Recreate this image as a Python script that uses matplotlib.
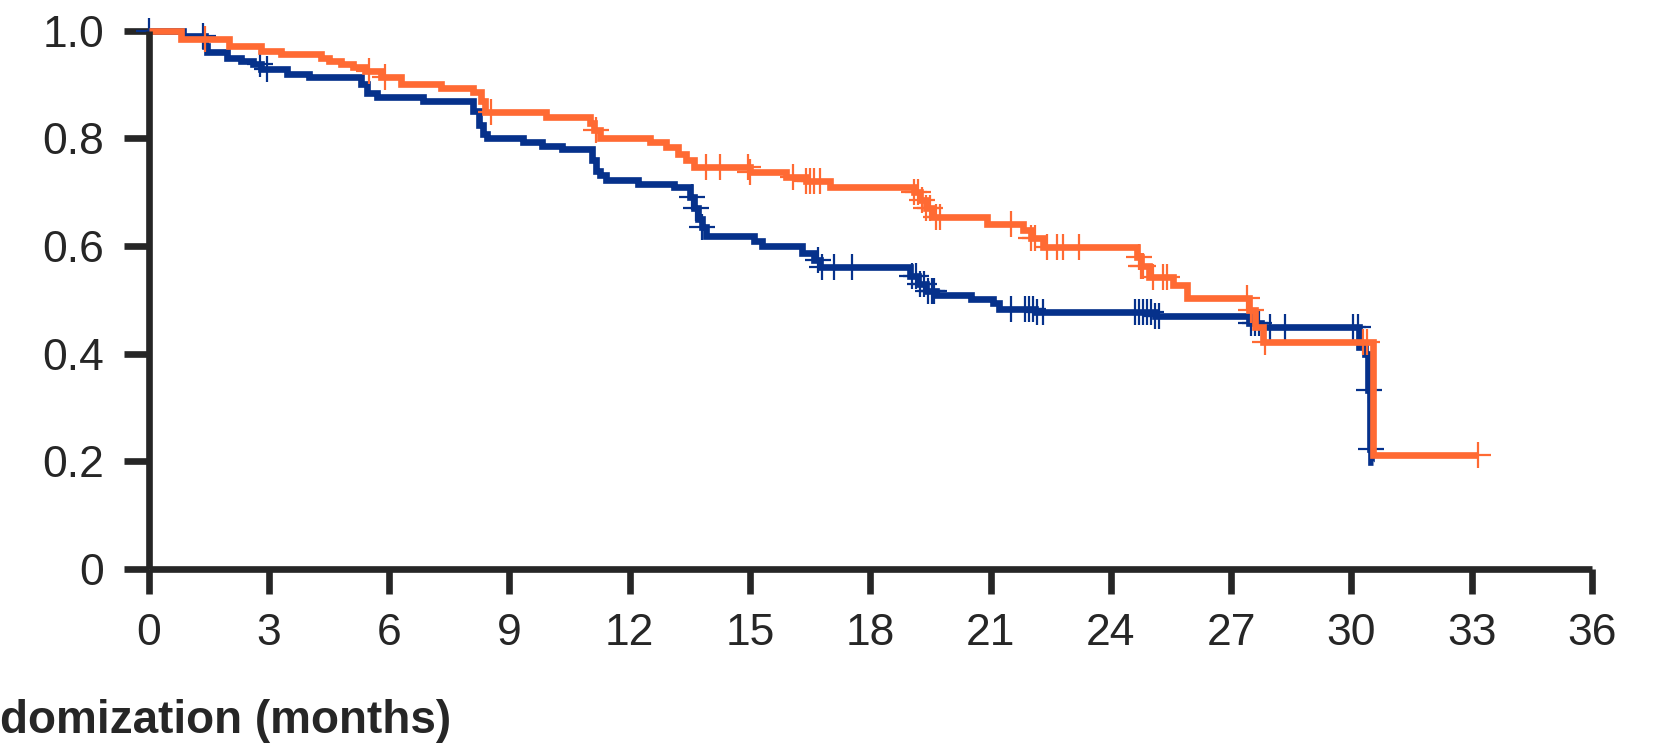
import numpy as np
import matplotlib
matplotlib.use("Agg")
import matplotlib.pyplot as plt

plt.rcParams['font.family'] = ['Liberation Sans', 'DejaVu Sans']

BLUE = '#06318b'
ORANGE = '#ff6a33'
AXIS = '#262626'

# Kaplan-Meier steps: time of event (months) and survival after it
blue_t = [0, 0.85, 1.4, 1.45, 1.95, 2.3, 2.6, 2.8, 3.45, 4.0, 5.3, 5.45, 5.7, 6.85,
          8.1, 8.25, 8.35, 8.45, 9.35, 9.8, 10.3, 11.05, 11.15, 11.25, 11.4, 12.2,
          13.1, 13.5, 13.6, 13.7, 13.8, 13.9, 15.1, 15.3, 16.3, 16.6, 16.75, 19.0,
          19.2, 19.4, 19.65, 20.5, 21.05, 21.2, 22.1, 25.1, 27.45, 27.75, 30.2,
          30.35, 30.42, 30.46, 30.5, 30.55]
blue_s = [1.0, 0.99, 0.972, 0.96, 0.95, 0.944, 0.938, 0.929, 0.919, 0.913, 0.90,
          0.885, 0.877, 0.87, 0.85, 0.825, 0.808, 0.80, 0.793, 0.786, 0.78, 0.76,
          0.74, 0.731, 0.722, 0.715, 0.709, 0.69, 0.67, 0.65, 0.635, 0.619, 0.61,
          0.60, 0.586, 0.573, 0.561, 0.545, 0.53, 0.517, 0.508, 0.502, 0.493,
          0.483, 0.477, 0.469, 0.456, 0.449, 0.412, 0.40, 0.332, 0.222, 0.198, 0.198]
blue_cens = [0.0, 1.35, 2.78, 2.95, 13.55, 13.65, 13.8, 16.7, 16.8, 17.1, 17.55,
             19.05, 19.15, 19.25, 19.35, 19.45, 19.55, 19.6, 21.5, 21.85, 21.95,
             22.07, 22.15, 22.3, 24.6, 24.7, 24.8, 24.9, 25.0, 25.1, 25.2, 27.5,
             27.6, 27.7, 27.97, 28.35, 30.05, 30.17, 30.44, 30.48]

orange_t = [0, 0.8, 2.0, 2.8, 3.3, 4.3, 4.5, 4.8, 5.1, 5.4, 5.8, 6.3, 7.3, 8.1, 8.3,
            8.4, 9.9, 11.0, 11.1, 11.25, 12.5, 12.9, 13.2, 13.4, 13.6, 15.0, 15.9,
            16.4, 17.0, 19.1, 19.25, 19.4, 19.55, 20.9, 21.8, 22.0, 22.3, 24.65,
            24.75, 24.95, 25.55, 25.9, 27.45, 27.6, 27.8, 30.55, 33.15]
orange_s = [1.0, 0.985, 0.972, 0.963, 0.957, 0.95, 0.944, 0.938, 0.932, 0.925,
            0.913, 0.901, 0.893, 0.886, 0.87, 0.848, 0.84, 0.828, 0.815, 0.80,
            0.793, 0.783, 0.771, 0.759, 0.746, 0.737, 0.728, 0.72, 0.709, 0.70,
            0.685, 0.67, 0.653, 0.641, 0.63, 0.615, 0.598, 0.58, 0.562, 0.542,
            0.527, 0.503, 0.48, 0.45, 0.421, 0.211, 0.211]
orange_cens = [1.4, 5.5, 5.9, 8.55, 11.15, 13.9, 14.25, 14.95, 15.0, 16.07, 16.4,
               16.5, 16.6, 16.75, 19.1, 19.2, 19.3, 19.4, 19.5, 19.65, 19.75, 21.5,
               22.0, 22.1, 22.4, 22.65, 22.8, 23.2, 24.7, 24.75, 24.8, 25.05, 25.3,
               25.4, 27.4, 27.5, 27.85, 30.3, 30.4, 33.15]

x_ticks = list(range(0, 37, 3))
y_ticks = [0, 0.2, 0.4, 0.6, 0.8, 1.0]
y_labels = ['0', '0.2', '0.4', '0.6', '0.8', '1.0']


def censor_y(t, s, cens):
    idx = np.searchsorted(np.array(t), np.array(cens), side='right') - 1
    return np.array(s)[idx]


fig = plt.figure(figsize=(16.64, 7.43), dpi=100)
ax = fig.add_axes([0.0893, 0.2345, 0.8674, 0.7242])

for t, s, cens, col in [(blue_t, blue_s, blue_cens, BLUE),
                        (orange_t, orange_s, orange_cens, ORANGE)]:
    ax.step(t, s, where='post', color=col, lw=4.8, clip_on=False,
            solid_joinstyle='miter', solid_capstyle='butt')
    ax.plot(cens, censor_y(t, s, cens), ls='none', marker='+', ms=19,
            mew=1.6, color=col, clip_on=False)

ax.set_xlim(0, 36)
ax.set_ylim(0, 1.0)
ax.set_xticks(x_ticks)
ax.set_xticklabels([str(v) for v in x_ticks])
ax.set_yticks(y_ticks)
ax.set_yticklabels(y_labels)

for side in ['top', 'right']:
    ax.spines[side].set_visible(False)
for side in ['left', 'bottom']:
    ax.spines[side].set_linewidth(4.8)
    ax.spines[side].set_color(AXIS)
    ax.spines[side].set_capstyle('butt')

ax.tick_params(direction='out', length=18, width=4.8, color=AXIS,
               labelsize=32, labelcolor=AXIS, pad=14)

fig.text(0.0, (743 - 733) / 743, 'domization (months)', fontsize=33,
         fontweight='bold', color=AXIS, ha='left', va='baseline')

fig.savefig('out.png', dpi=100)
